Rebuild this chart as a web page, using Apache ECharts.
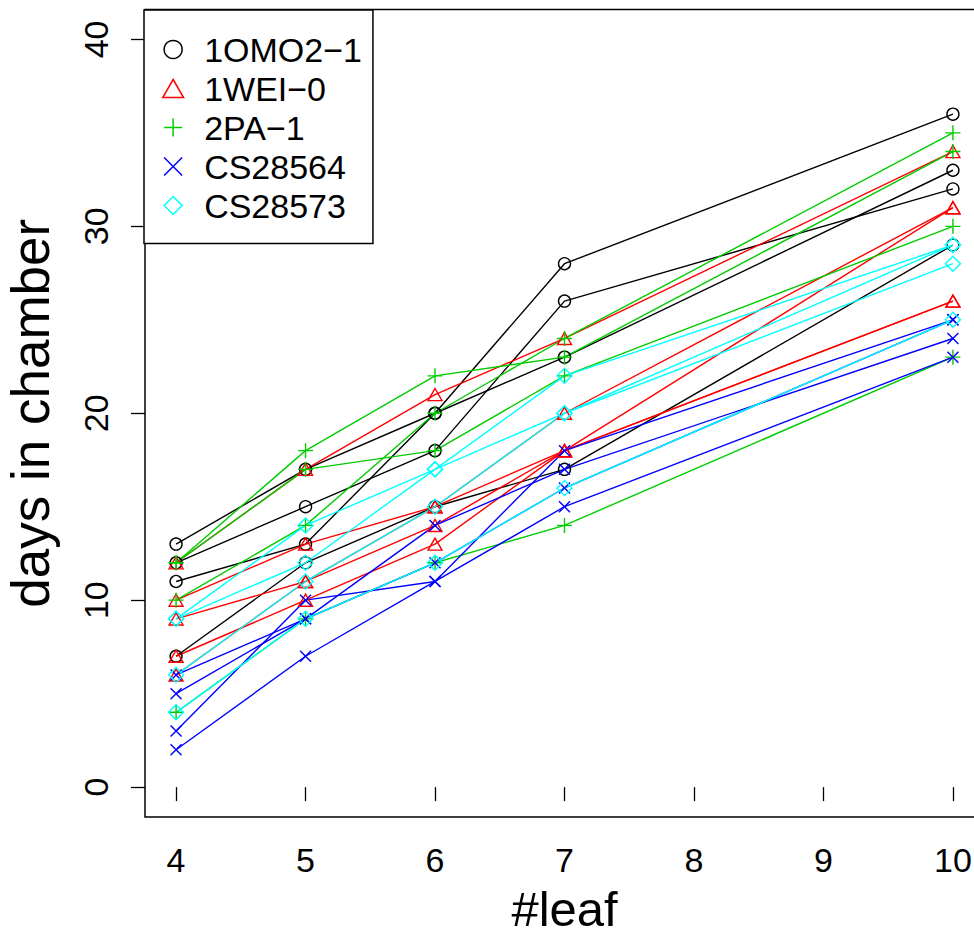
<!DOCTYPE html>
<html>
<head>
<meta charset="utf-8">
<script src="https://cdn.jsdelivr.net/npm/echarts@6/dist/echarts.min.js"></script>
<style>
html,body{margin:0;padding:0;background:#fff;}
#chart{width:974px;height:937px;}
</style>
</head>
<body>
<div id="chart"></div>
<script>
// x positions (leaf number)
const leafCounts = [4, 5, 6, 7, 10];
const xTicks = [4, 5, 6, 7, 8, 9, 10];
const yTicks = [0, 10, 20, 30, 40];

// days in chamber, one array per replicate line
const omo2_1 = [
  [13, 17, 20, 28, 36],
  [11, 13, 20, 23, 33],
  [12, 15, 18, 26, 32],
  [7, 12, 15, 17, 29]
];
const wei_0 = [
  [12, 17, 21, 24, 34],
  [10, 13, 15, 20, 31],
  [9, 11, 15, 18, 31],
  [7, 10, 13, 18, 26],
  [6, 11, 14, 18, 26]
];
const pa_1 = [
  [12, 18, 22, 23, 34],
  [12, 17, 18, 22, 30],
  [10, 14, 20, 24, 35],
  [4, 9, 12, 14, 23]
];
const cs28564 = [
  [6, 9, 14, 17, 24],
  [5, 9, 12, 16, 25],
  [3, 10, 11, 18, 25],
  [2, 7, 11, 15, 23]
];
const cs28573 = [
  [9, 14, 17, 22, 29],
  [9, 12, 17, 20, 29],
  [6, 11, 15, 20, 28],
  [4, 9, 12, 16, 25]
];

const names = ['1OMO2\u22121', '1WEI\u22120', '2PA\u22121', 'CS28564', 'CS28573'];
const colors = ['#000000', '#FF0000', '#00CD00', '#0000FF', '#00FFFF'];
const groups = [omo2_1, wei_0, pa_1, cs28564, cs28573];

const TRI = 'path://M5,0L10,8.66L0,8.66Z';
const PLUS = 'path://M5,0L5,10M0,5L10,5';
const CROSS = 'path://M0,0L10,10M0,10L10,0';
const DIAM = 'path://M5,0L10,5L5,10L0,5Z';
const symbols = ['circle', TRI, PLUS, CROSS, DIAM];
const symSizes = [12, 14, 15, 11, 15];

const FONT = "'Liberation Sans', Arial, Helvetica, sans-serif";

const series = [];
groups.forEach((reps, gi) => {
  reps.forEach((rep) => {
    series.push({
      type: 'line',
      name: names[gi],
      data: leafCounts.map((x, i) => [x, rep[i]]),
      symbol: symbols[gi],
      symbolSize: symSizes[gi],
      symbolKeepAspect: true,
      showAllSymbol: true,
      itemStyle: { color: 'transparent', borderColor: colors[gi], borderWidth: 1.4 },
      lineStyle: { color: colors[gi], width: 1.4 },
      emphasis: { disabled: true },
      silent: true
    });
  });
});

const chart = echarts.init(document.getElementById('chart'), null, { renderer: 'svg' });
chart.setOption({
  animation: false,
  backgroundColor: '#fff',
  grid: {
    left: 145, top: 9.5, width: 839, height: 807.5,
    outerBoundsMode: 'none', containLabel: false,
    show: true, borderColor: '#000', borderWidth: 1.5, backgroundColor: 'transparent'
  },
  xAxis: {
    type: 'value', min: 3.76, max: 10.24,
    axisLine: { show: false },
    splitLine: { show: false },
    axisTick: { show: true, length: 14, customValues: xTicks, lineStyle: { color: '#000', width: 1.3 } },
    axisLabel: { customValues: xTicks, margin: 26, fontSize: 34, color: '#000', fontFamily: FONT },
    name: '#leaf', nameLocation: 'middle', nameGap: 72,
    nameTextStyle: { fontSize: 49, lineHeight: 40, color: '#000', fontFamily: FONT }
  },
  yAxis: {
    type: 'value', min: -1.6, max: 41.6,
    axisLine: { show: false },
    splitLine: { show: false },
    axisTick: { show: true, length: 14, customValues: yTicks, lineStyle: { color: '#000', width: 1.3 } },
    axisLabel: { customValues: yTicks, rotate: 90, margin: 32, fontSize: 34, color: '#000', fontFamily: FONT },
    name: 'days in chamber', nameLocation: 'middle', nameGap: 88,
    nameTextStyle: { fontSize: 53, color: '#000', fontFamily: FONT }
  },
  legend: {
    left: 144, top: 10, orient: 'vertical',
    padding: [22.5, 11, 21, 18],
    itemGap: 5, itemWidth: 52, itemHeight: 18,
    symbolKeepAspect: true,
    borderColor: '#000', borderWidth: 1.5, backgroundColor: '#fff',
    selectedMode: false,
    textStyle: { fontSize: 34, lineHeight: 34, color: '#000', fontFamily: FONT },
    data: names.map((n, i) => ({
      name: n, icon: symbols[i],
      itemStyle: { color: 'transparent', borderColor: colors[i], borderWidth: 1.5 }
    }))
  },
  series: series
});
</script>
</body>
</html>
